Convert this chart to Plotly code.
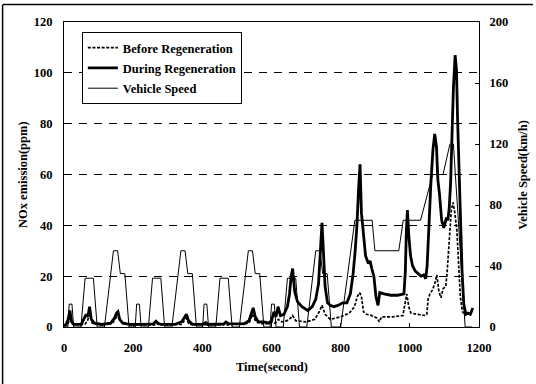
import plotly.graph_objects as go

# ---------------- data ----------------
time_speed = [0, 11, 15, 23, 28, 49, 61, 85, 96, 117, 143, 155, 163, 176, 188,
              195, 206, 210, 218, 223, 244, 256, 280, 291, 312, 338, 350, 358, 371, 383,
              390, 401, 405, 413, 418, 439, 451, 475, 486, 507, 533, 545, 553, 566, 578,
              585, 596, 600, 608, 613, 634, 646, 670, 681, 702, 728, 740, 748, 761, 773,
              780, 800, 841, 891, 899, 968, 981, 1031, 1066, 1096, 1116, 1126, 1160, 1180]
speed_kmh = [0, 0, 15, 15, 0, 0, 32, 32, 0, 0, 50, 50, 35, 35, 0,
             0, 0, 15, 15, 0, 0, 32, 32, 0, 0, 50, 50, 35, 35, 0,
             0, 0, 15, 15, 0, 0, 32, 32, 0, 0, 50, 50, 35, 35, 0,
             0, 0, 15, 15, 0, 0, 32, 32, 0, 0, 50, 50, 35, 35, 0,
             0, 0, 70, 70, 50, 50, 70, 70, 100, 100, 120, 120, 0, 0]

time_during = [0, 6, 12, 17, 22, 30, 50, 58, 64, 69,
               74, 79, 88, 110, 135, 146, 152, 156, 161, 170,
               190, 230, 258, 266, 272, 280, 320, 340, 348, 354,
               360, 372, 400, 410, 416, 440, 462, 468, 476, 520,
               535, 541, 547, 553, 562, 578, 592, 600, 607, 613,
               619, 626, 636, 646, 652, 657, 661, 667, 675, 688,
               705, 718, 728, 736, 742, 746, 750, 755, 762, 770,
               780, 792, 806, 818, 828, 836, 842, 847, 852, 856,
               860, 866, 872, 880, 885, 890, 896, 902, 908, 913,
               925, 945, 965, 983, 987, 990, 993, 997, 1002, 1008,
               1016, 1024, 1032, 1040, 1046, 1050, 1055, 1061, 1067, 1072,
               1077, 1081, 1086, 1092, 1098, 1102, 1106, 1110, 1114, 1118,
               1122, 1126, 1131, 1135, 1138, 1142, 1146, 1151, 1156, 1162,
               1168, 1175, 1182]
nox_during = [0.5, 1, 3, 6.5, 2, 1, 1, 3, 5, 4,
              8, 3, 1.5, 1, 1.5, 3.5, 5.5, 6, 3, 1.5,
              1, 1, 1.2, 2.3, 1.5, 1, 1, 2, 4, 5,
              2.5, 1, 1, 1.8, 1, 1, 1.2, 2, 1.3, 1.2,
              2.5, 5, 7.5, 4, 2, 2, 1.5, 2.5, 6, 4,
              8, 4.5, 5, 8, 13, 20, 23, 14, 10, 8,
              6.5, 8, 11, 17, 30, 41, 30, 16, 9.5, 8.5,
              8, 8.5, 9.5, 9.5, 13, 21, 30, 40, 55, 64,
              45, 36, 28, 25, 26, 23, 20, 12, 8.5, 13.5,
              13, 12.5, 12.5, 13, 22, 38, 46, 36, 28, 24,
              22, 21, 20, 20.5, 19, 24, 40, 57, 70, 76,
              71, 58, 52, 42, 39, 41, 43, 42, 47, 57,
              80, 94, 107, 101, 82, 62, 42, 22, 9, 5,
              5.5, 5, 7.5]

time_before = [0, 10, 17, 25, 60, 68, 74, 82, 100, 140,
               150, 156, 164, 190, 262, 268, 276, 340, 353, 362,
               460, 466, 472, 535, 545, 555, 580, 600, 610, 620,
               630, 645, 655, 661, 670, 700, 725, 738, 746, 755,
               770, 785, 800, 825, 840, 848, 855, 860, 866, 875,
               890, 905, 912, 918, 950, 980, 986, 991, 997, 1003,
               1020, 1045, 1049, 1053, 1058, 1065, 1072, 1078, 1084, 1090,
               1096, 1104, 1108, 1114, 1120, 1125, 1130, 1136, 1141, 1146,
               1152, 1160]
nox_before = [0.5, 0.8, 3, 1, 1, 2.5, 5, 1.5, 0.8, 1.5,
              3.5, 5, 2, 0.8, 0.8, 1.5, 0.8, 1, 3.5, 1,
              0.8, 1.2, 0.8, 1.5, 5, 2, 1, 2, 1.5, 3,
              2, 2.5, 3.5, 4.5, 2.5, 2, 3, 6, 8.5, 5,
              3, 3.5, 4, 5.5, 8, 12, 13.5, 12, 6, 5,
              4.5, 3.5, 2, 4, 4, 4.5, 9, 13, 8, 5.5,
              5, 4.5, 5, 11, 13, 14.5, 17, 20.5, 14, 11.5,
              15, 16, 22, 35, 46, 49, 45, 38, 25, 12,
              6, 5]

x_ticks = [0, 200, 400, 600, 800, 1000, 1200]
nox_ticks = [0, 20, 40, 60, 80, 100, 120]
speed_ticks = [0, 40, 80, 120, 160, 200]

series_names = ["Before Regeneration", "During Regeneration", "Vehicle Speed"]
x_title = "Time(second)"
y_title = "NOx emission(ppm)"
y2_title = "Vehicle Speed(km/h)"

# ---------------- figure ----------------
FONT = "Liberation Serif, Times New Roman, serif"

fig = go.Figure()
fig.add_trace(go.Scatter(x=time_before, y=nox_before, name=series_names[0], mode="lines",
                         legendgroup="a",
                         line=dict(color="black", width=1.7, dash="3px,1.6px")))
fig.add_trace(go.Scatter(x=time_during, y=nox_during, name=series_names[1], mode="lines",
                         legendgroup="b",
                         line=dict(color="black", width=2.8)))
fig.add_trace(go.Scatter(x=time_speed, y=speed_kmh, name=series_names[2], mode="lines",
                         legendgroup="c", yaxis="y2",
                         line=dict(color="black", width=1)))

axis_common = dict(ticks="inside", ticklen=4, tickcolor="black", tickwidth=1,
                   showline=True, linecolor="black", linewidth=1, zeroline=False,
                   tickfont=dict(family=FONT, size=12.5, color="black", weight="bold"))

fig.update_layout(
    width=536, height=384, autosize=False,
    margin=dict(l=64, r=57, t=22, b=57, autoexpand=False),
    paper_bgcolor="white", plot_bgcolor="white",
    font=dict(family=FONT, size=12.5, color="black", weight="bold"),
    xaxis=dict(range=[0, 1200], tickvals=x_ticks, mirror=True, showgrid=False,
               ticklabelstandoff=9, **axis_common),
    yaxis=dict(range=[0, 120], tickvals=nox_ticks, showgrid=True, gridcolor="black",
               gridwidth=1, griddash="8px,7px", ticklabelstandoff=8, **axis_common),
    yaxis2=dict(range=[0, 200], tickvals=speed_ticks, overlaying="y", side="right",
                showgrid=False, ticklabelstandoff=7, **axis_common),
    legend=dict(x=0.043, y=0.967, xanchor="left", yanchor="top", bgcolor="white",
                bordercolor="black", borderwidth=1, tracegroupgap=1,
                font=dict(family=FONT, size=12.5, color="black", weight="bold")),
    showlegend=True,
)

fig.add_annotation(text=x_title, xref="paper", yref="paper", x=0.5, y=-0.131,
                   xanchor="center", yanchor="middle", showarrow=False,
                   font=dict(family=FONT, size=12.5, color="black", weight="bold"))
fig.add_annotation(text=y_title, xref="paper", yref="paper", x=-0.1, y=0.5,
                   xanchor="center", yanchor="middle", textangle=-90, showarrow=False,
                   font=dict(family=FONT, size=12.5, color="black", weight="bold"))
fig.add_annotation(text=y2_title, xref="paper", yref="paper", x=1.104, y=0.5,
                   xanchor="center", yanchor="middle", textangle=-90, showarrow=False,
                   font=dict(family=FONT, size=12.5, color="black", weight="bold"))

# scanned page frame (top and left edges)
fig.add_shape(type="line", xref="paper", yref="paper", x0=-0.147, x1=1.130,
              y0=1.0574, y1=1.0574, line=dict(color="black", width=1.5))
fig.add_shape(type="line", xref="paper", yref="paper", x0=-0.148, x1=-0.148,
              y0=1.0574, y1=-0.19, line=dict(color="black", width=1.5))

fig.write_html("out.html",
               config={"displayModeBar": False},
               post_script="document.body.style.margin='0';document.body.style.padding='0';")
